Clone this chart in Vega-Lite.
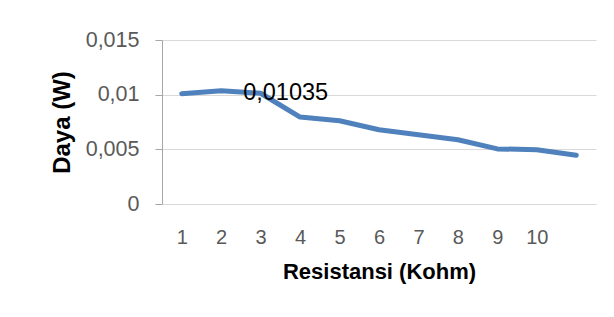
{
  "$schema": "https://vega.github.io/schema/vega-lite/v6.json",
  "autosize": "none",
  "width": 434,
  "height": 164,
  "padding": {"left": 162, "top": 40, "right": 18, "bottom": 113},
  "background": "white",
  "config": {
    "view": {"stroke": null},
    "font": "Liberation Sans"
  },
  "data": {
    "values": [
      {"r": 1, "daya": 0.01009},
      {"r": 2, "daya": 0.01035},
      {"r": 3, "daya": 0.01013},
      {"r": 4, "daya": 0.00795},
      {"r": 5, "daya": 0.00761},
      {"r": 6, "daya": 0.00679},
      {"r": 7, "daya": 0.00634},
      {"r": 8, "daya": 0.00588},
      {"r": 9, "daya": 0.00504},
      {"r": 10, "daya": 0.00497},
      {"r": 11, "daya": 0.00445}
    ]
  },
  "encoding": {
    "x": {
      "field": "r",
      "type": "ordinal",
      "title": "Resistansi (Kohm)",
      "axis": {
        "labelAngle": 0,
        "labelExpr": "datum.value == 11 ? '' : datum.label",
        "labelFont": "Liberation Sans",
        "labelFontSize": 20,
        "labelColor": "#595959",
        "ticks": false,
        "tickSize": 0,
        "labelPadding": 23,
        "domainColor": "#d9d9d9",
        "domainWidth": 1,
        "titleFont": "Liberation Sans",
        "titleFontSize": 22,
        "titleFontWeight": "bold",
        "titleColor": "#000000",
        "titlePadding": 14
      }
    },
    "y": {
      "field": "daya",
      "type": "quantitative",
      "title": "Daya (W)",
      "scale": {"domain": [0, 0.015], "nice": false},
      "axis": {
        "values": [0, 0.005, 0.01, 0.015],
        "format": ".3~f",
        "labelExpr": "replace(datum.label, '.', ',')",
        "labelFont": "Liberation Sans",
        "labelFontSize": 21.5,
        "labelColor": "#595959",
        "tickSize": 7,
        "tickColor": "#a6a6a6",
        "domainColor": "#a6a6a6",
        "labelPadding": 16,
        "gridColor": "#d9d9d9",
        "gridWidth": 1,
        "titleFont": "Liberation Sans",
        "titleFontSize": 24,
        "titleFontWeight": "bold",
        "titleColor": "#000000",
        "titlePadding": 11
      }
    }
  },
  "layer": [
    {
      "mark": {"type": "line", "color": "#4f81bd", "strokeWidth": 5, "strokeCap": "round", "strokeJoin": "round"}
    },
    {
      "transform": [{"filter": "datum.r == 2"}],
      "mark": {"type": "text", "align": "left", "baseline": "middle", "dx": 22, "dy": 2, "fontSize": 23.5, "font": "Liberation Sans", "color": "#000000"},
      "encoding": {
        "text": {"value": "0,01035"}
      }
    }
  ]
}
